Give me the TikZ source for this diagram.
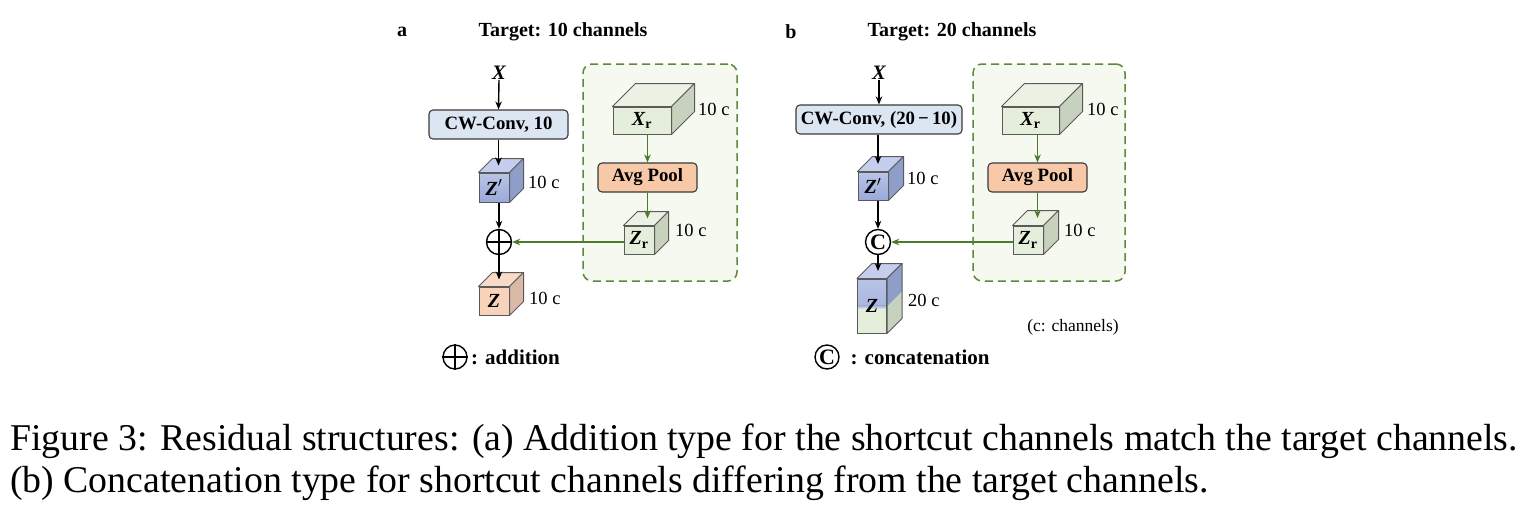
\documentclass[tikz,border=0pt]{standalone}
\usepackage{fontspec}
\setmainfont{Liberation Serif}
\usetikzlibrary{arrows.meta,calc}
\definecolor{convfill}{HTML}{DCE6F2}
\definecolor{boxborder}{HTML}{3A3A3A}
\definecolor{cubeborder}{HTML}{5A5A5A}
\definecolor{zbtop}{HTML}{B9C4E7}
\definecolor{zbbot}{HTML}{9AA9DA}
\definecolor{zbtopface}{HTML}{C5CEEC}
\definecolor{zbside}{HTML}{8F9DC9}
\definecolor{cgreen}{HTML}{E5EEDB}
\definecolor{cgreentop}{HTML}{EBF2E3}
\definecolor{cgreenside}{HTML}{C6D1BE}
\definecolor{zpeach}{HTML}{F8D3BC}
\definecolor{zpeachtop}{HTML}{F9DAC6}
\definecolor{zpeachside}{HTML}{D9BAA7}
\definecolor{avgfill}{HTML}{F7C9A9}
\definecolor{gboxfill}{HTML}{F5F9F0}
\definecolor{gboxline}{HTML}{5B8A3C}
\definecolor{garrow}{HTML}{4B7A2D}
\tikzset{
  conn/.style={draw=black, line width=1.4pt, -{Stealth[length=8pt,width=6.5pt]}},
  gconn/.style={draw=garrow, line width=1.5pt, -{Stealth[length=8pt,width=6.5pt]}},
  opbox/.style={rectangle, rounded corners=4pt, draw=boxborder, line width=1.1pt, inner sep=0pt,
    font=\fontsize{18.8}{20}\selectfont\bfseries},
  cubefront/.style={rectangle, draw=cubeborder, line width=1pt, inner sep=0pt,
    font=\fontsize{20}{20}\selectfont\bfseries\itshape},
  lbl/.style={anchor=west, inner sep=0pt, font=\fontsize{18.5}{20}\selectfont},
  ttl/.style={inner sep=0pt, font=\fontsize{20}{22}\selectfont\bfseries},
  xin/.style={inner sep=0pt, font=\fontsize{20.5}{22}\selectfont\bfseries\itshape},
  opcirc/.style={circle, draw=black, line width=1.4pt, minimum size=25pt, inner sep=0pt,
    font=\fontsize{22}{22}\selectfont\bfseries},
  gbox/.style={rectangle, rounded corners=9pt, draw=gboxline, fill=gboxfill, line width=1.5pt,
    dash pattern=on 8pt off 5pt, inner sep=0pt},
  legtxt/.style={anchor=west, inner sep=0pt, font=\fontsize{21}{22}\selectfont\bfseries},
  captxt/.style={anchor=base west, inner sep=0pt, font=\fontsize{37.8}{42}\selectfont},
  splitfront/.style={path picture={
    \shade[top color=zbtop, bottom color=zbbot] (path picture bounding box.north west) rectangle ([yshift=-26pt]path picture bounding box.north east);
    \shade[top color=zbbot, bottom color=cgreen] ([yshift=-26pt]path picture bounding box.north west) rectangle ([yshift=-30pt]path picture bounding box.north east);
    \fill[cgreen] ([yshift=-30pt]path picture bounding box.north west) rectangle (path picture bounding box.south east);
  }}
}
\newcommand\drawcube[4]{%
  \filldraw[fill=#3, draw=cubeborder, line width=1pt, line join=round]
    (#1.north west) -- ([xshift=#2,yshift=#2]#1.north west) -- ([xshift=#2,yshift=#2]#1.north east) -- (#1.north east) -- cycle;
  \filldraw[fill=#4, draw=cubeborder, line width=1pt, line join=round]
    (#1.north east) -- ([xshift=#2,yshift=#2]#1.north east) -- ([xshift=#2,yshift=#2]#1.south east) -- (#1.south east) -- cycle;
  \coordinate (#1-top) at ([xshift=#2/2,yshift=#2/2]#1.north);
}
\newcommand\pluscross[1]{%
  \draw[line width=1.4pt] (#1.north) -- (#1.south) (#1.west) -- (#1.east);
}
\begin{document}
\begin{tikzpicture}[x=1pt,y=-1pt]
\useasboundingbox (0,0) rectangle (1534,507);
\fill[white] (0,0) rectangle (1534,507);

% ================= Panel a =================
\node[ttl] (la) at (402,32) {a};
\node[ttl] (ta) at (563,32) {Target: 10 channels};
\node[gbox, minimum width=154pt, minimum height=217pt] (ga) at (660,172.5) {};
\node[xin] (xa) at (499,73) {X};
\node[opbox, fill=convfill, minimum width=139pt, minimum height=29pt] (conva) at (498.5,124.5) {CW-Conv, 10};
\node[cubefront, top color=zbtop, bottom color=zbbot, minimum width=30pt, minimum height=29pt] (zpa) at (494,187.5) {Z$'$};
\drawcube{zpa}{14pt}{zbtopface}{zbside}
\node[opcirc] (plusa) at (499,242) {};
\pluscross{plusa}
\node[cubefront, fill=zpeach, minimum width=30pt, minimum height=28pt] (za) at (494,301) {Z};
\drawcube{za}{14pt}{zpeachtop}{zpeachside}
\node[cubefront, fill=cgreen, minimum width=58pt, minimum height=27pt] (xra) at (642,120.5) {X\textsubscript{\upshape r}};
\drawcube{xra}{23pt}{cgreentop}{cgreenside}
\node[opbox, fill=avgfill, minimum width=99pt, minimum height=29pt] (avga) at (647.5,177.5) {Avg Pool};
\node[cubefront, fill=cgreen, minimum width=30pt, minimum height=28pt] (zra) at (639,240) {Z\textsubscript{\upshape r}};
\drawcube{zra}{14pt}{cgreentop}{cgreenside}
\node[lbl] (lzpa) at (528,182) {10 c};
\node[lbl] (lxra) at (698,109) {10 c};
\node[lbl] (lzra) at (675,230) {10 c};
\node[lbl] (lza) at (529,298) {10 c};

\draw[conn] (xa.south) -- (conva.north);
\draw[conn] (conva.south) -- (conva.south |- zpa-top);
\draw[conn] (plusa |- zpa.south) -- (plusa.north);
\draw[conn] (plusa.south) -- (plusa |- za-top);
\draw[gconn] (avga |- xra.south) -- (avga.north);
\draw[gconn] (avga.south) -- (avga |- zra-top);
\draw[gconn] (plusa -| zra.west) -- (plusa.east);

\node[opcirc, minimum size=24pt] (lega) at (455,357) {};
\pluscross{lega}
\node[legtxt] (legta) at (471,357) {: addition};

% ================= Panel b =================
\node[ttl] (lb) at (791,32) {b};
\node[ttl] (tb) at (952,32) {Target: 20 channels};
\node[gbox, minimum width=152pt, minimum height=217pt] (gb) at (1049,172.5) {};
\node[xin] (xb) at (879,73) {X};
\node[opbox, fill=convfill, minimum width=166pt, minimum height=29pt] (convb) at (879,119.5) {CW-Conv, (20\,−\,10)};
\node[cubefront, top color=zbtop, bottom color=zbbot, minimum width=30pt, minimum height=28pt] (zpb) at (873,186) {Z$'$};
\drawcube{zpb}{15pt}{zbtopface}{zbside}
\node[opcirc] (catb) at (878,242) {C};
\node[cubefront, splitfront, minimum width=29pt, minimum height=54pt] (zb) at (872,306) {Z};
\filldraw[fill=zbtopface, draw=cubeborder, line width=1pt, line join=round]
  (zb.north west) -- ([xshift=15pt,yshift=15pt]zb.north west) -- ([xshift=15pt,yshift=15pt]zb.north east) -- (zb.north east) -- cycle;
\fill[zbside] (zb.north east) -- ([xshift=15pt,yshift=15pt]zb.north east) -- ([xshift=15pt,yshift=-13pt]zb.north east) -- ([yshift=-28pt]zb.north east) -- cycle;
\fill[cgreenside] ([yshift=-28pt]zb.north east) -- ([xshift=15pt,yshift=-13pt]zb.north east) -- ([xshift=15pt,yshift=15pt]zb.south east) -- (zb.south east) -- cycle;
\draw[draw=cubeborder, line width=1pt, line join=round]
  (zb.north east) -- ([xshift=15pt,yshift=15pt]zb.north east) -- ([xshift=15pt,yshift=15pt]zb.south east) -- (zb.south east) -- cycle;
\coordinate (zb-top) at ([xshift=7.5pt,yshift=7.5pt]zb.north);
\node[cubefront, fill=cgreen, minimum width=57pt, minimum height=27pt] (xrb) at (1030.5,120.5) {X\textsubscript{\upshape r}};
\drawcube{xrb}{23pt}{cgreentop}{cgreenside}
\node[opbox, fill=avgfill, minimum width=99pt, minimum height=29pt] (avgb) at (1037.5,177.5) {Avg Pool};
\node[cubefront, fill=cgreen, minimum width=30pt, minimum height=28pt] (zrb) at (1028,240) {Z\textsubscript{\upshape r}};
\drawcube{zrb}{15pt}{cgreentop}{cgreenside}
\node[lbl] (lzpb) at (907,178) {10 c};
\node[lbl] (lxrb) at (1087,109) {10 c};
\node[lbl] (lzrb) at (1064,230) {10 c};
\node[lbl] (lzb) at (908,300) {20 c};
\node[inner sep=0pt, font=\fontsize{17.5}{20}\selectfont] (chn) at (1073,327) {(c: channels)};

\draw[conn] (xb.south) -- (convb.north);
\draw[conn] (catb |- convb.south) -- (catb |- zpb-top);
\draw[conn] (catb |- zpb.south) -- (catb.north);
\draw[conn] (catb.south) -- (catb |- zb-top);
\draw[gconn] (avgb |- xrb.south) -- (avgb.north);
\draw[gconn] (avgb.south) -- (avgb |- zrb-top);
\draw[gconn] (catb -| zrb.west) -- (catb.east);

\node[opcirc, minimum size=24pt] (legb) at (827,357) {C};
\node[legtxt] (legtb) at (847,357) {\,: concatenation};

% ================= Caption =================
\node[captxt] (cap1) at (10,450) {Figure 3: Residual structures: (a) Addition type for the shortcut channels match the target channels.};
\node[captxt] (cap2) at (10,492) {(b) Concatenation type for shortcut channels differing from the target channels.};
\end{tikzpicture}
\end{document}
